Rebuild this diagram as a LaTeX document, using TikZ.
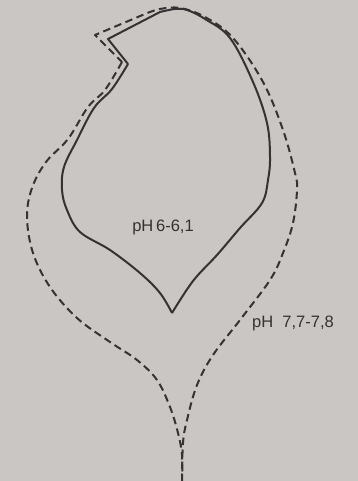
\documentclass[tikz,border=0pt]{standalone}
\usepackage{fontspec}
\setmainfont{Liberation Sans}
\usetikzlibrary{positioning}
\definecolor{paper}{RGB}{201,198,196}
\definecolor{ink}{RGB}{52,50,50}

\begin{document}
\begin{tikzpicture}[x=1pt,y=-1pt,font=\fontsize{16.5}{18}\selectfont,
  contour/.style={ink,line width=2pt,line join=round},
  contourdash/.style={contour,dash pattern=on 7.5pt off 4.5pt}]
\fill[paper] (0,0) rectangle (358,481);
\useasboundingbox (0,0) rectangle (358,481);
% tip of the inner contour and foot of the outer one
\coordinate (tip) at (172,313);
\coordinate (stem) at (182,481);
% inner contour (pH 6)
\draw[contour] (tip)
  plot[smooth,tension=0.6] coordinates {(172,313) (193,281) (217,255) (240,228) (262,203) (268,180) (270,157) (267,123) (253,82) (230,38) (205,19) (187,10) (175,9) (160,12)}
  -- (108,39) -- (128,64)
  plot[smooth,tension=0.6] coordinates {(128,64) (112,89) (94,108) (77,140) (64,167) (62,190) (67,210) (80,232) (110,250) (140,273) (160,293) (172,313)};
% outer contour (pH 7,7)
\draw[contourdash] (stem)
  plot[smooth,tension=0.6] coordinates {(182,481) (183,443) (187,420) (197,385) (213,355) (240,320) (270,280) (283,253) (293,223) (297,190) (295,173) (283,130) (263,82) (233,38) (205,17) (180,8) (160,9) (145,14)}
  -- (95,35) -- (122,62)
  plot[smooth,tension=0.6] coordinates {(122,62) (105,90) (88,107) (68,139) (46,162) (32,188) (27,217) (33,253) (50,287) (77,318) (110,342) (137,360) (157,380) (170,407) (178,433) (182,455) (182,481)};
% labels
\node[ink] (acid) at (163,227) {pH\,6-6,1};
\node[ink,anchor=west,inner sep=0pt] (alk) at (252,323) {pH\ \ 7,7-7,8};
\end{tikzpicture}
\end{document}
